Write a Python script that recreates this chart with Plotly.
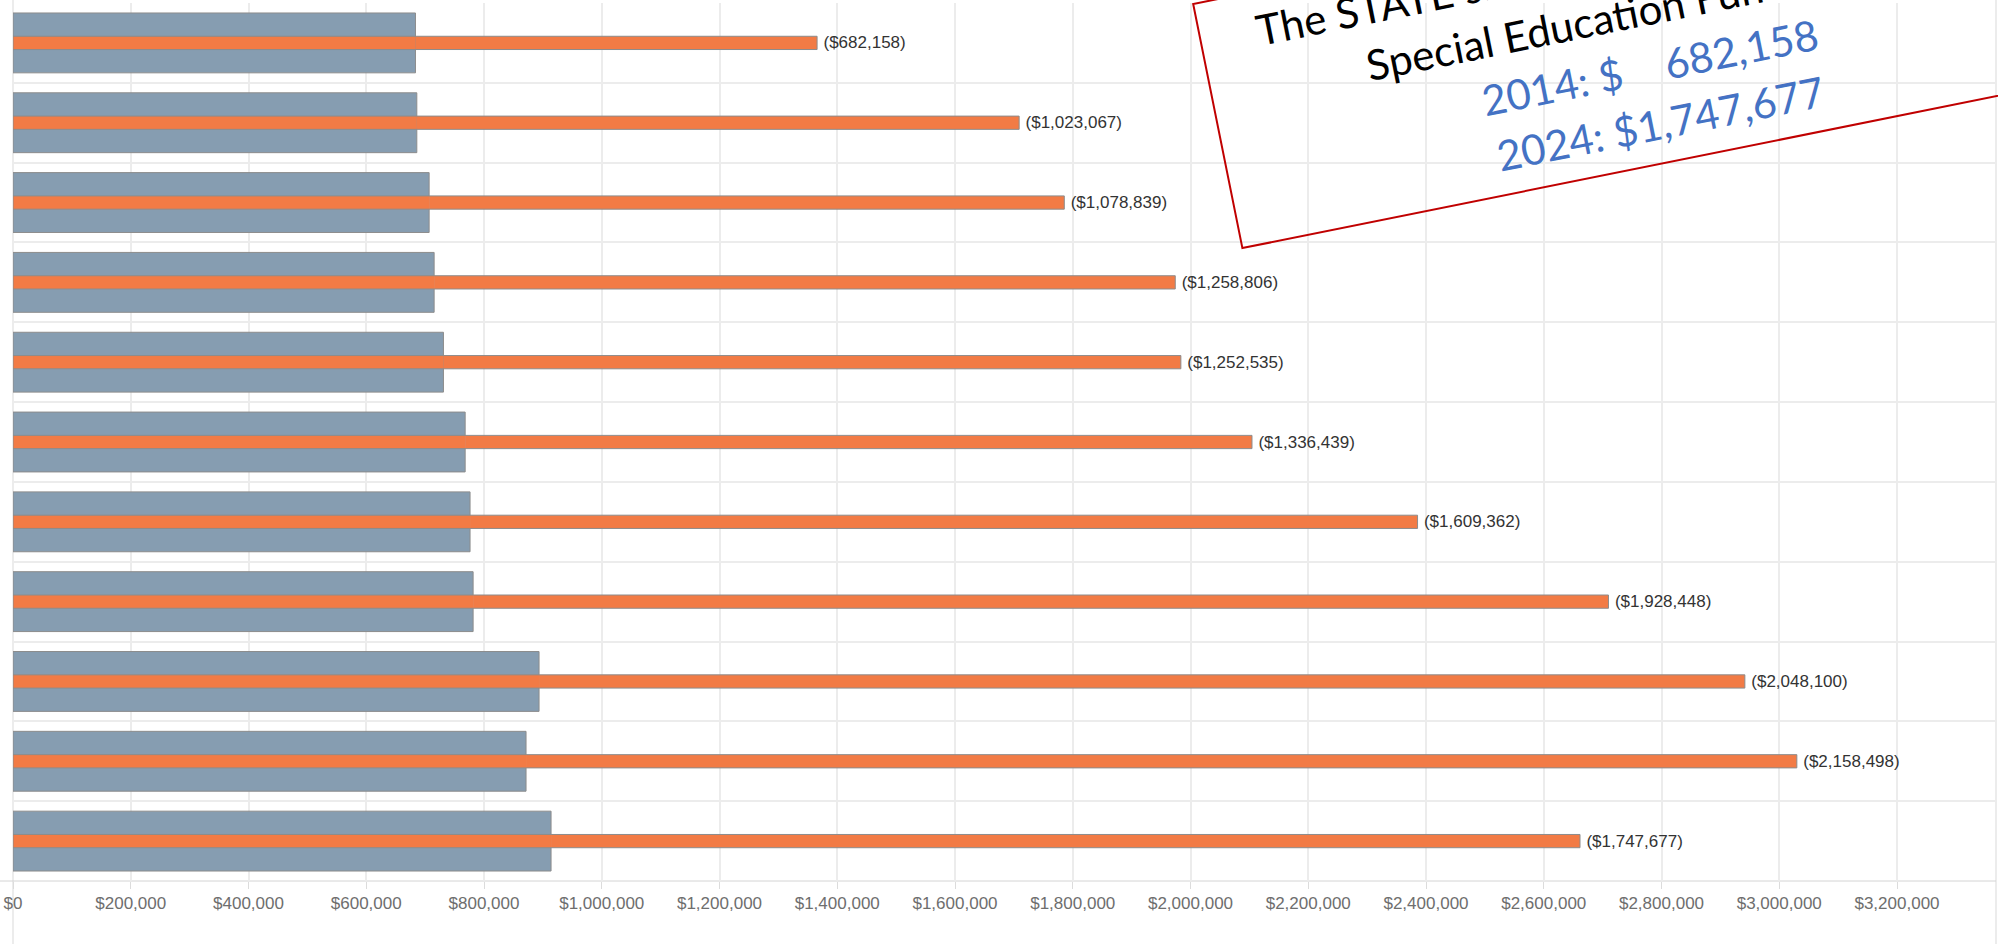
import math
import plotly.graph_objects as go

# Yearly amounts (2014 at the top, 2024 at the bottom)
years = [str(y) for y in range(2014, 2025)]
local_amounts = [683600, 685900, 706800, 715300, 731100, 768000,
                 776300, 781500, 893500, 871400, 913900]
state_amounts = [682158, 1023067, 1078839, 1258806, 1252535, 1336439,
                 1609362, 1928448, 2048100, 2158498, 1747677]
x_tick_values = list(range(0, 3200001, 200000))
x_tick_labels = [f"${v:,}" for v in x_tick_values]

totals = [a + b for a, b in zip(local_amounts, state_amounts)]
state_labels = [f"\u2009(${v:,})" for v in state_amounts]

# Page geometry
W, H = 1998, 944
L, R, T, B = 13, 2, 3, 63
PW, PH = W - L - R, H - T - B
PX_PER_MILLION = 588.75
x_max = PW / PX_PER_MILLION * 1e6

GRAY = "#869DB1"
ORANGE = "#F27B45"
EDGE = "#8C8C8C"
GRID = "#ECECEC"
WIDE, THIN = 0.75, 0.166

fig = go.Figure()

# wide gray bars
fig.add_trace(go.Bar(
    y=years, x=local_amounts, orientation="h", width=WIDE,
    marker=dict(color=GRAY, line=dict(color=EDGE, width=1)),
    hoverinfo="skip"))

# thin orange bar: part overlapping the gray bar
fig.add_trace(go.Bar(
    y=years, x=local_amounts, base=0, orientation="h", width=THIN,
    marker=dict(color=ORANGE, line=dict(width=0)),
    hoverinfo="skip"))

# thin orange bar: state amount stacked after the gray amount
fig.add_trace(go.Bar(
    y=years, x=state_amounts, base=local_amounts, orientation="h", width=THIN,
    marker=dict(color=ORANGE, line=dict(width=0)),
    text=state_labels, textposition="outside", constraintext="none",
    textfont=dict(family="Liberation Sans, Arial", size=17, color="#333333"),
    cliponaxis=False, hoverinfo="skip"))

# outline around the whole thin bar
fig.add_trace(go.Bar(
    y=years, x=totals, base=0, orientation="h", width=THIN,
    marker=dict(color="rgba(0,0,0,0)", line=dict(color=EDGE, width=1)),
    hoverinfo="skip"))


def to_paper(p):
    return ((p[0] - L) / PW, (T + PH - p[1]) / PH)


shapes = [
    # frame lines running the full height of the page
    dict(type="line", xref="paper", yref="paper", x0=0, x1=0,
         y0=to_paper((0, H))[1], y1=to_paper((0, 0))[1],
         line=dict(color="#D9D9D9", width=1), layer="below"),
    dict(type="line", xref="paper", yref="paper", x0=1, x1=1,
         y0=to_paper((0, H))[1], y1=to_paper((0, 0))[1],
         line=dict(color="#D9D9D9", width=1), layer="below"),
    # bottom axis line
    dict(type="line", xref="paper", yref="paper",
         x0=to_paper((0, 0))[0], x1=1, y0=0, y1=0,
         line=dict(color="#D4D4D4", width=1), layer="below"),
]

# Rotated callout box
ANG = 11.4
cs, sn = math.cos(math.radians(ANG)), math.sin(math.radians(ANG))
corner = (1242.4, 248.1)


def frame(s, t):
    return (corner[0] + s * cs - t * sn, corner[1] - s * sn - t * cs)


box_w, box_h = 900, 249
pts = [to_paper(frame(a, b)) for a, b in
       [(0, 0), (box_w, 0), (box_w, box_h), (0, box_h)]]
path = "M " + " L ".join(f"{x:.5f},{y:.5f}" for x, y in pts) + " Z"
shapes.append(dict(type="path", xref="paper", yref="paper", path=path,
                   line=dict(color="#C00000", width=2),
                   fillcolor="rgba(0,0,0,0)", layer="above"))

callout_lines = [
    ("The STATE share of", "#000000", 236, 211),
    ("Special Education Funding", "#000000", 399, 154),
    ("2014: $\u00a0\u00a0\u00a0\u00a0682,158", "#4472C4", 435, 97),
    ("2024: $1,747,677", "#4472C4", 435, 40),
]
annotations = []
for text, color, s, t in callout_lines:
    x, y = to_paper(frame(s, t))
    annotations.append(dict(
        text=text, x=x, y=y, xref="paper", yref="paper",
        xanchor="center", yanchor="middle", showarrow=False,
        textangle=-ANG, font=dict(family="Lato", size=42, color=color)))

fig.update_layout(
    width=W, height=H,
    margin=dict(l=L, r=R, t=T, b=B, pad=0),
    paper_bgcolor="white", plot_bgcolor="white",
    barmode="overlay", showlegend=False,
    shapes=shapes, annotations=annotations,
    xaxis=dict(
        range=[0, x_max], tickvals=x_tick_values, ticktext=x_tick_labels,
        showgrid=True, gridcolor=GRID, gridwidth=2, zeroline=False,
        ticks="outside", ticklen=7, tickcolor="#DCDCDC",
        tickfont=dict(family="Liberation Sans, Arial", size=17, color="#6E6E6E"),
        showline=False),
    yaxis=dict(
        type="category", categoryorder="array", categoryarray=years,
        range=[10.5, -0.5], showticklabels=False, ticks="",
        showgrid=True, gridcolor=GRID, gridwidth=2, tickson="boundaries",
        zeroline=False, showline=False),
)

fig.write_html("out.html")
